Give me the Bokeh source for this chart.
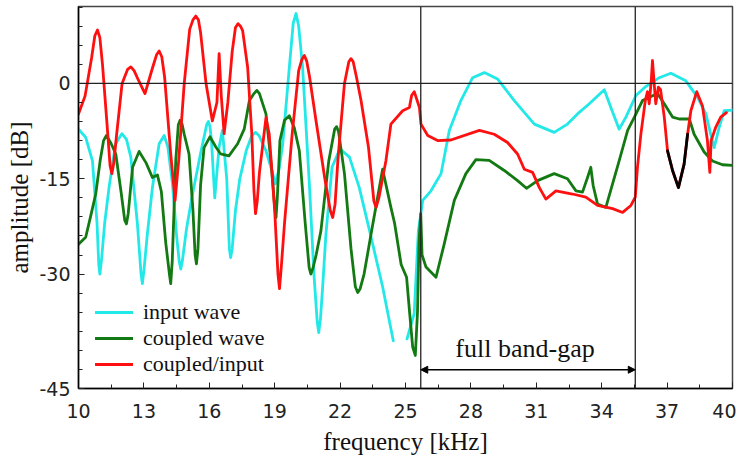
from bokeh.plotting import figure
from bokeh.models import FixedTicker, Span, Arrow, NormalHead, Label, Range1d
from bokeh.embed import file_html
from bokeh.resources import INLINE

NaN = float("nan")

# ---------------- data ----------------
x_ticks = [10, 13, 16, 19, 22, 25, 28, 31, 34, 37, 40]
y_ticks = [0, -15, -30, -45]
y_tick_labels = ["0", "-15", "-30", "-45"]

band_gap = [25.7, 35.54]          # kHz
band_gap_label = "full band-gap"

input_freq = [10.0, 10.33, 10.64, 10.85, 10.93, 10.98, 11.05, 11.2, 11.4, 11.7,
              11.99, 12.2, 12.4, 12.7, 12.87, 12.93, 13.0, 13.15, 13.39, 13.7,
              13.93, 14.1, 14.31, 14.5, 14.62, 14.69, 14.77, 14.95, 15.2, 15.6,
              15.88, 15.96, 16.03, 16.1, 16.25, 16.45, 16.6, 16.8, 16.92, 16.98,
              17.05, 17.2, 17.4, 17.7, 17.95, 18.12, 18.28, 18.6, 18.85, 19.03,
              19.2, 19.37, 19.67, 19.85, 19.98, 20.1, 20.28, 20.59, 20.8, 20.95,
              21.02, 21.1, 21.2, 21.35, 21.63, 21.99, 22.43, 22.88, 23.34, 23.95,
              24.44, NaN,
              25.07, 25.4, 25.59, 25.79, 26.17, 26.63, 27.01, 27.54, 28.08, 28.62,
              29.22, 29.99, 30.91, 31.82, 32.43, 32.89, 33.43, 34.12, 34.42, 34.8,
              35.11, 35.57, 36.02, 36.64, 37.17, 37.86, 38.4, 38.78, 39.0, 39.16,
              39.39, 39.62, 40.0]
input_db = [-7.2, -8.5, -12.2, -22.0, -28.5, -30.0, -28.0, -22.0, -16.4, -9.5,
            -7.9, -8.8, -11.6, -22.0, -30.0, -31.5, -29.5, -24.0, -16.4, -9.5,
            -8.2, -10.0, -15.8, -24.0, -28.0, -29.2, -27.8, -23.0, -18.0, -11.0,
            -6.5, -6.0, -6.8, -9.0, -18.0, -10.0, -7.4, -15.0, -26.0, -27.4,
            -26.0, -20.0, -15.0, -10.5, -8.2, -7.7, -8.2, -10.6, -13.5, -15.8,
            -13.5, -9.5, 2.5, 9.5, 11.0, 9.0, 2.5, -15.8, -30.0, -37.5,
            -39.2, -37.0, -32.0, -23.7, -13.2, -10.3, -11.6, -16.4, -23.0, -32.0,
            -40.5, NaN,
            -40.2, -36.2, -23.2, -18.4, -16.9, -14.2, -7.4, -2.7, 0.9, 1.7,
            0.7, -2.7, -6.4, -7.7, -6.4, -4.8, -3.2, -1.0, -3.8, -7.2,
            -5.3, -1.9, -0.5, 0.9, 1.6, 0.4, -2.2, -4.8, -8.0, -10.1,
            -6.9, -4.3, -4.2]

coupled_freq = [10.0, 10.33, 10.55, 10.79, 11.0, 11.15, 11.28, 11.5, 11.71, 11.95,
                12.12, 12.2, 12.28, 12.48, 12.78, 13.1, 13.39, 13.62, 13.8, 14.0,
                14.17, 14.23, 14.3, 14.46, 14.58, 14.66, 14.75, 14.85, 15.07, 15.25,
                15.35, 15.41, 15.48, 15.6, 15.76, 16.03, 16.3, 16.52, 16.9, 17.3,
                17.6, 17.84, 18.05, 18.18, 18.3, 18.6, 18.85, 19.0, 19.06, 19.12,
                19.24, 19.45, 19.67, 19.9, 20.13, 20.4, 20.58, 20.66, 20.76, 20.9,
                21.12, 21.48, 21.75, 21.84, 21.93, 22.2, 22.5, 22.7, 22.81, 22.92,
                23.1, 23.42, 23.95, 24.33, 24.5, 24.8, 25.05, 25.2, 25.33, 25.45,
                25.55, 25.62, 25.7, 25.76, 25.94, 26.4, 26.78, 27.24, 27.77, 28.23,
                28.84, 29.53, 30.14, 30.55, 31.06, 31.82, 32.43, 32.82, 33.12, 33.35,
                33.5, 33.61, 33.81, 34.19, 34.8, 35.19, 35.5, 35.87, 36.56, 36.87,
                37.25, 37.56, 38.02, 38.24, 38.7, 39.08, 39.54, 40.0]
coupled_db = [-25.3, -24.2, -21.0, -17.4, -12.0, -9.0, -8.2, -9.5, -11.1, -17.0,
              -21.5, -22.1, -20.5, -13.2, -10.7, -12.5, -14.8, -14.4, -17.0, -25.0,
              -30.0, -31.5, -28.0, -12.2, -6.5, -5.8, -6.4, -8.0, -11.1, -20.0,
              -27.0, -28.4, -26.0, -16.0, -10.1, -8.4, -10.0, -11.1, -11.4, -9.5,
              -7.2, -2.7, -1.6, -1.1, -1.6, -4.8, -13.0, -19.5, -21.1, -18.0,
              -9.0, -5.8, -5.1, -7.0, -10.6, -22.0, -29.0, -30.0, -29.0, -27.0,
              -23.2, -12.2, -7.2, -6.8, -7.6, -14.2, -26.0, -32.0, -32.9, -32.3,
              -30.0, -23.7, -13.5, -19.5, -22.0, -28.5, -30.5, -36.5, -41.5, -42.8,
              -36.0, -25.0, -20.5, -27.0, -28.9, -30.5, -25.2, -18.4, -14.2, -12.0,
              -12.1, -13.7, -15.3, -16.5, -15.3, -14.2, -15.0, -16.9, -17.1, -14.8,
              -13.2, -16.1, -19.0, -19.5, -12.2, -7.4, -5.3, -2.7, -1.6, -3.2,
              -5.3, -5.6, -5.6, -8.0, -10.8, -12.2, -12.8, -12.9]

ratio_freq = [10.0, 10.3, 10.6, 10.75, 10.87, 10.98, 11.1, 11.3, 11.45, 11.53,
              11.62, 11.75, 12.0, 12.25, 12.4, 12.55, 12.75, 13.05, 13.4, 13.58,
              13.7, 13.82, 13.95, 14.23, 14.43, 14.6, 14.85, 15.1, 15.25, 15.38,
              15.5, 15.6, 15.85, 16.14, 16.35, 16.45, 16.55, 16.68, 16.85, 17.05,
              17.2, 17.32, 17.43, 17.53, 17.76, 17.95, 18.05, 18.12, 18.2, 18.3,
              18.6, 18.75, 19.0, 19.15, 19.22, 19.3, 19.45, 19.8, 20.1, 20.25,
              20.36, 20.47, 20.6, 20.9, 21.3, 21.55, 21.66, 21.77, 21.9, 22.2,
              22.4, 22.5, 22.6, 22.75, 22.96, 23.3, 23.55, 23.65, 23.78, 24.1,
              24.33, 24.87, 25.18, 25.28, 25.4, 25.64, 25.71, 26.02, 26.47, 27.08,
              28.39, 29.07, 29.68, 30.14, 30.45, 30.83, 31.14, 31.44, 31.9, 32.66,
              33.27, 33.81, 34.5, 34.96, 35.34, 35.54, 35.64, 35.8, 36.0, 36.1,
              36.18, 36.27, 36.33, 36.4, 36.48, 36.6, 36.7, 36.87, 37.02, 37.25,
              37.52, 37.78, 37.94, 38.09, 38.36, 38.62, 38.85, 38.96, 39.02, 39.23,
              39.46, 39.72]
ratio_db = [-4.8, -2.0, 4.0, 7.5, 8.4, 7.2, 3.0, -6.0, -13.0, -14.2,
            -12.5, -8.0, 0.0, 2.2, 2.6, 2.0, 0.5, -1.6, 2.5, 4.5,
            5.1, 4.2, 1.0, -11.1, -18.4, -12.0, 0.0, 8.5, 10.0, 10.6,
            10.0, 8.0, 0.0, -5.9, -3.0, 4.7, -2.0, -7.9, -3.0, 5.0,
            8.8, 9.4, 9.0, 8.3, 2.5, -8.0, -17.0, -20.5, -18.5, -14.0,
            -5.4, -8.0, -20.0, -30.0, -32.3, -29.0, -22.0, -8.0, 2.0, 3.8,
            4.4, 3.5, 1.0, -6.0, -15.0, -20.0, -21.1, -19.0, -12.0, 0.0,
            3.4, 3.9, 3.4, 1.0, -2.7, -10.0, -18.5, -19.5, -18.0, -12.2,
            -6.4, -4.3, -3.8, -1.9, -1.3, -3.8, -6.4, -8.2, -9.0, -8.9,
            -7.4, -8.0, -9.3, -11.1, -13.5, -14.0, -16.4, -18.2, -16.9, -17.4,
            -17.9, -19.2, -19.7, -20.3, -19.2, -17.9, -13.2, -7.9, -2.7, -1.3,
            -3.2, 0.3, 3.6, 0.3, -3.2, -0.6, -1.0, -5.3, -10.6, -13.7,
            -16.4, -12.7, -8.0, -4.3, -1.3, -3.5, -9.0, -14.0, -9.0, -6.9,
            -5.3, -4.6]

# part of the coupled/input trace that the original draws in black
black_span = [37.0, 37.95]

# ---------------- figure ----------------
Y_START, Y_END = -48.0, 12.1

p = figure(width=736, height=460, output_backend="svg", toolbar_location=None,
           x_range=Range1d(10, 40), y_range=Range1d(Y_START, Y_END),
           min_border_left=78, min_border_right=4, min_border_top=6,
           min_border_bottom=72)
p.background_fill_color = "white"
p.border_fill_color = "white"
p.outline_line_color = "#444444"
p.outline_line_width = 1.5
p.xgrid.visible = False
p.ygrid.visible = False

# axes
minor_x = [10 + 1.5 * i for i in range(21)]
p.xaxis.ticker = FixedTicker(ticks=x_ticks, minor_ticks=minor_x)
y_pos = y_ticks[:-1] + [Y_START]     # the "-45" label sits on the bottom edge
p.yaxis.ticker = FixedTicker(ticks=y_pos,
                             minor_ticks=[Y_START + 3 * i for i in range(21)])
p.yaxis.major_label_overrides = {v: s for v, s in zip(y_pos, y_tick_labels)}

for ax in (p.xaxis[0], p.yaxis[0]):
    ax.axis_line_color = "black"
    ax.axis_line_width = 1.5
    ax.major_tick_in = 6
    ax.major_tick_out = 0
    ax.minor_tick_in = 4
    ax.minor_tick_out = 0
    ax.major_tick_line_color = "#222222"
    ax.minor_tick_line_color = "#222222"
    ax.major_label_text_font = "DejaVu Sans"
    ax.major_label_text_font_size = "19px"
    ax.major_label_text_color = "#222222"
    ax.axis_label_text_font = "Liberation Serif"
    ax.axis_label_text_font_size = "25px"
    ax.axis_label_text_font_style = "normal"
    ax.axis_label_text_color = "#111111"

p.xaxis.axis_label = "frequency [kHz]"
p.yaxis.axis_label = "amplitude [dB]"
p.xaxis.major_label_standoff = 15
p.xaxis.axis_label_standoff = 7
p.yaxis.major_label_standoff = 8
p.yaxis.axis_label_standoff = 3

# reference lines
p.add_layout(Span(location=0, dimension="width", line_color="#222222",
                  line_width=1.3))
for edge in band_gap:
    p.add_layout(Span(location=edge, dimension="height", line_color="#222222",
                      line_width=1.3))

# curves
kw = dict(line_width=2.8, line_join="round", line_cap="round")
p.line(input_freq, input_db, line_color="#22E8E8", legend_label="input wave", **kw)
p.line(coupled_freq, coupled_db, line_color="#137A13", legend_label="coupled wave", **kw)
p.line(ratio_freq, ratio_db, line_color="#FF1010", legend_label="coupled/input", **kw)
bx = [f for f, d in zip(ratio_freq, ratio_db) if black_span[0] <= f <= black_span[1]]
by = [d for f, d in zip(ratio_freq, ratio_db) if black_span[0] <= f <= black_span[1]]
p.line(bx, by, line_color="black", **kw)

# band-gap annotation
arrow_y = -45.05
p.add_layout(Arrow(start=NormalHead(size=7, fill_color="black", line_color="black"),
                   end=NormalHead(size=7, fill_color="black", line_color="black"),
                   x_start=band_gap[0], x_end=band_gap[1],
                   y_start=arrow_y, y_end=arrow_y,
                   line_color="black", line_width=1.5))
p.add_layout(Label(x=(band_gap[0] + band_gap[1]) / 2, y=-41.7, x_offset=-3,
                   text=band_gap_label, text_align="center",
                   text_baseline="alphabetic", text_font="Liberation Serif",
                   text_font_size="26px", text_color="#111111"))

# legend
lg = p.legend[0]
lg.location = (17, 11)
lg.padding = 0
lg.margin = 0
lg.spacing = 0
lg.border_line_alpha = 0
lg.background_fill_alpha = 0
lg.glyph_width = 38
lg.glyph_height = 26
lg.label_height = 26
lg.label_standoff = 10
lg.label_text_font = "Liberation Serif"
lg.label_text_font_size = "22px"
lg.label_text_color = "#111111"

open("out.html", "w").write(file_html(p, INLINE))
